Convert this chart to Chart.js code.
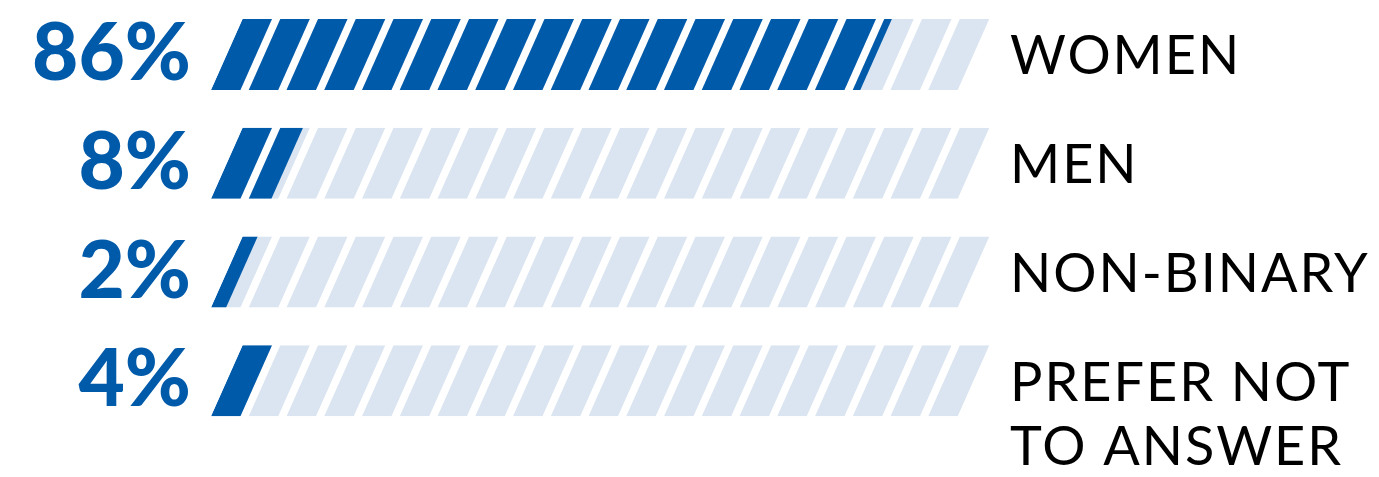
<!DOCTYPE html>
<html>
<head>
    <title>Gender split</title>
    <script src="https://cdn.jsdelivr.net/npm/chart.js"></script>
    <style>
        html, body {
            margin: 0;
            padding: 0;
            background-color: #ffffff;
        }
        #wrap {
            width: 1379px;
            height: 477px;
        }
    </style>
</head>
<body>

<div id="wrap"><canvas id="genderChart"></canvas></div>

<script>
    const categories = ['WOMEN', 'MEN', 'NON-BINARY', ['PREFER NOT', 'TO ANSWER']];
    const percents = [86, 8, 2, 4];
    const fullBar = [100, 100, 100, 100];

    const darkBlue = '#005aaa';
    const lightBlue = '#dae5f1';
    const stripeCount = 20;

    // parallelogram stripes, clipped to a slanted bar from x0 to xEnd
    function drawStripes(ctx, x0, xEnd, period, top, bottom, color) {
        const h = bottom - top;
        const slant = h * 0.445;
        const sw = period * 0.78;
        ctx.save();
        ctx.beginPath();
        ctx.moveTo(x0, bottom);
        ctx.lineTo(xEnd, bottom);
        ctx.lineTo(xEnd + slant, top);
        ctx.lineTo(x0 + slant, top);
        ctx.closePath();
        ctx.clip();
        ctx.fillStyle = color;
        for (let k = 0; k < stripeCount; k++) {
            const sx = x0 + k * period;
            ctx.beginPath();
            ctx.moveTo(sx, bottom);
            ctx.lineTo(sx + sw, bottom);
            ctx.lineTo(sx + sw + slant, top);
            ctx.lineTo(sx + slant, top);
            ctx.closePath();
            ctx.fill();
        }
        ctx.restore();
    }

    const stripePlugin = {
        id: 'stripes',
        afterDatasetsDraw(chart) {
            const ctx = chart.ctx;
            const xs = chart.scales.x;
            const period = xs.getPixelForValue(100 / stripeCount) - xs.getPixelForValue(0);
            const bgMeta = chart.getDatasetMeta(0);
            const valMeta = chart.getDatasetMeta(1);
            bgMeta.data.forEach((bar, i) => {
                const top = bar.y - bar.height / 2;
                const bottom = bar.y + bar.height / 2;
                drawStripes(ctx, bar.base, bar.x, period, top, bottom, lightBlue);
                const v = valMeta.data[i];
                drawStripes(ctx, v.base, v.x, period, top, bottom, darkBlue);
            });
        }
    };

    const labelPlugin = {
        id: 'rightLabels',
        afterDraw(chart) {
            const ctx = chart.ctx;
            const ys = chart.scales.y;
            ctx.save();
            ctx.fillStyle = '#000000';
            ctx.font = '400 54px Lato';
            ctx.letterSpacing = '2px';
            ctx.textAlign = 'left';
            ctx.textBaseline = 'alphabetic';
            categories.forEach((cat, i) => {
                const lines = Array.isArray(cat) ? cat : [cat];
                const cy = ys.getPixelForValue(i);
                lines.forEach((line, j) => {
                    ctx.fillText(line, 1010, cy + 20 + j * 64);
                });
            });
            ctx.restore();
        }
    };

    new Chart(document.getElementById('genderChart'), {
        type: 'bar',
        data: {
            labels: categories,
            datasets: [
                { data: fullBar, backgroundColor: 'rgba(0,0,0,0)', grouped: false, barThickness: 71 },
                { data: percents, backgroundColor: 'rgba(0,0,0,0)', grouped: false, barThickness: 71 }
            ]
        },
        options: {
            indexAxis: 'y',
            responsive: true,
            maintainAspectRatio: false,
            animation: false,
            layout: { padding: { top: 0, bottom: 42, left: 0, right: 413 } },
            plugins: {
                legend: { display: false },
                tooltip: { enabled: false }
            },
            scales: {
                x: {
                    display: false,
                    min: 0,
                    max: 100
                },
                y: {
                    afterFit: scale => {
                        scale.width = 211;
                        scale.paddingTop = 0;
                        scale.paddingBottom = 0;
                    },
                    grid: { display: false, drawTicks: false },
                    border: { display: false },
                    ticks: {
                        padding: 20,
                        color: darkBlue,
                        font: { family: 'Lato', size: 80, weight: '900' },
                        callback: (val, i) => percents[i] + '%'
                    }
                }
            }
        },
        plugins: [stripePlugin, labelPlugin]
    });
</script>
</body>
</html>
